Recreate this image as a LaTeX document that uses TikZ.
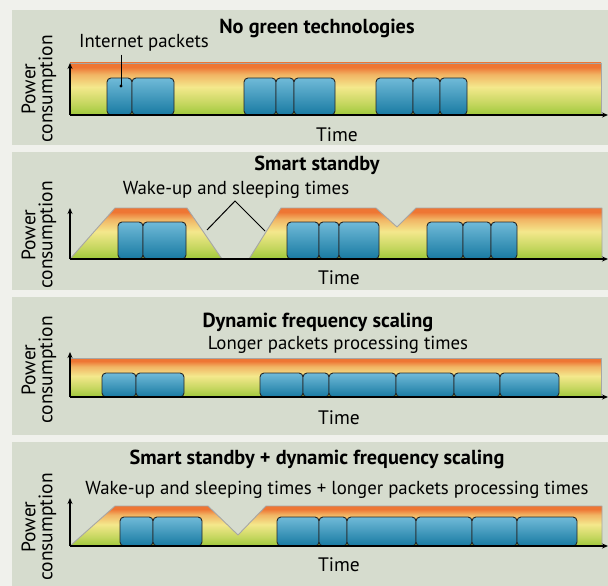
\documentclass[tikz,border=0pt]{standalone}
\usepackage{fontspec}
\setmainfont{PT Sans}
\usetikzlibrary{arrows.meta}
\definecolor{panelbg}{RGB}{214,220,206}
\definecolor{pagebg}{RGB}{240,241,236}
\definecolor{borange}{RGB}{238,118,52}
\definecolor{byellow}{RGB}{244,232,140}
\definecolor{bgreen}{RGB}{158,200,58}
\definecolor{pktlight}{RGB}{112,186,216}
\definecolor{pktdark}{RGB}{24,122,162}
\pgfdeclareverticalshading{band}{100bp}{color(0bp)=(bgreen); color(25bp)=(bgreen); color(36bp)=(bgreen!55!byellow); color(52bp)=(byellow); color(64bp)=(borange!45!byellow); color(71bp)=(borange); color(75bp)=(borange); color(100bp)=(borange)}
\newcommand\pkt[5]{\node[packet, anchor=south west, minimum width={(#3-#2)*1pt}, minimum height={(#5-#4)*1pt}] (#1) at (#2,#5) {};}
\tikzset{
  packet/.style={draw=black!85, line width=0.9pt, rounded corners=4pt, top color=pktlight, bottom color=pktdark, inner sep=0pt, outer sep=0pt},
  bandfill/.style={shading=band},
  bandedge/.style={draw=gray!70, line width=0.9pt, line join=round},
  axisline/.style={line width=1.3pt, -{Stealth[length=6pt,width=5pt]}},
  leader/.style={line width=1pt},
  ttl/.style={font=\fontsize{20.3}{22}\selectfont\bfseries, inner sep=0pt},
  lbl/.style={font=\fontsize{18.8}{21}\selectfont, inner sep=0pt},
  tlbl/.style={font=\fontsize{19.5}{21}\selectfont, inner sep=0pt},
  ylbl/.style={font=\fontsize{19.5}{20}\selectfont, rotate=90, align=center, inner sep=0pt},
}
\begin{document}
\begin{tikzpicture}[x=1pt,y=-1pt]
\useasboundingbox (0,0) rectangle (608,586);
\fill[pagebg] (0,0) rectangle (608,586);
% panels
\fill[panelbg] (12,10) rectangle (608,145);
\fill[panelbg] (12,152) rectangle (608,290);
\fill[panelbg] (12,297) rectangle (608,435);
\fill[panelbg] (12,442) rectangle (608,586);

% ---------- Panel 1 ----------
\path[bandfill] (70,115) -- (70,63) -- (601,63) -- (601,115) -- cycle;
\draw[bandedge] (70,63) -- (601,63) -- (601,115);
\pkt{pa1}{107}{132}{78}{115}
\pkt{pa2}{132}{174}{78}{115}
\pkt{pa3}{244}{276}{78}{115}
\pkt{pa4}{276}{294}{78}{115}
\pkt{pa5}{294}{335}{78}{115}
\pkt{pa6}{376}{413}{78}{115}
\pkt{pa7}{413}{440}{78}{115}
\pkt{pa8}{440}{467}{78}{115}
\coordinate (oa) at (70,115);
\coordinate (ya) at (70,63);
\coordinate (xa) at (608,115);
\draw[axisline] (oa) -- (ya);
\draw[axisline] (oa) -- (xa);
\node[ttl] (ta) at (317,28) {No green technologies};
\node[lbl] (la) at (144,43) {Internet packets};
\coordinate (da) at (121,86);
\draw[leader] (la.south -| da) ++(0,3) -- (da);
\fill (da) circle (1.6pt);
\node[tlbl] (tma) at (337,135) {Time};
\node[ylbl] (pwa) at (39,89) {Power\\[-3pt]consumption};

% ---------- Panel 2 ----------
\path[bandfill] (70,259) -- (115,208) -- (187,208) -- (222,259) -- cycle;
\draw[bandedge] (70,259) -- (115,208) -- (187,208) -- (222,259);
\path[bandfill] (249,259) -- (281,208) -- (376,208) -- (397,227) -- (416,208) -- (602,208) -- (602,259) -- cycle;
\draw[bandedge] (249,259) -- (281,208) -- (376,208) -- (397,227) -- (416,208) -- (602,208) -- (602,259);
\pkt{pb1}{118}{143}{222}{259}
\pkt{pb2}{143}{186}{222}{259}
\pkt{pb3}{287}{319}{222}{259}
\pkt{pb4}{319}{339}{222}{259}
\pkt{pb5}{339}{379}{222}{259}
\pkt{pb6}{427}{463}{222}{259}
\pkt{pb7}{463}{491}{222}{259}
\pkt{pb8}{491}{517}{222}{259}
\coordinate (ob) at (70,259);
\coordinate (yb) at (70,208);
\coordinate (xb) at (608,259);
\draw[axisline] (ob) -- (yb);
\draw[axisline] (ob) -- (xb);
\node[ttl] (tb) at (317,165) {Smart standby};
\node[lbl] (lb) at (236,190) {Wake-up and sleeping times};
\coordinate (apb) at (235,201);
\coordinate (e1b) at (207,230);
\coordinate (e2b) at (265,231);
\draw[leader] (e1b) -- (apb) -- (e2b);
\node[tlbl] (tmb) at (339,278) {Time};
\node[ylbl] (pwb) at (39,235) {Power\\[-3pt]consumption};

% ---------- Panel 3 ----------
\path[bandfill] (70,397) -- (70,358) -- (601,358) -- (601,397) -- cycle;
\draw[bandedge] (70,358) -- (601,358) -- (601,397);
\pkt{pc1}{102}{136}{373}{397}
\pkt{pc2}{136}{184}{373}{397}
\pkt{pc3}{260}{303}{373}{397}
\pkt{pc4}{303}{329}{373}{397}
\pkt{pc5}{329}{396}{373}{397}
\pkt{pc6}{396}{454}{373}{397}
\pkt{pc7}{454}{500}{373}{397}
\pkt{pc8}{500}{559}{373}{397}
\coordinate (oc) at (70,397);
\coordinate (yc) at (70,352);
\coordinate (xc) at (608,397);
\draw[axisline] (oc) -- (yc);
\draw[axisline] (oc) -- (xc);
\node[ttl] (tc) at (318,322) {Dynamic frequency scaling};
\node[lbl] (lc) at (338,345) {Longer packets processing times};
\node[tlbl] (tmc) at (339,418) {Time};
\node[ylbl] (pwc) at (39,370) {Power\\[-3pt]consumption};

% ---------- Panel 4 ----------
\path[bandfill] (70,546) -- (115,506) -- (208,506) -- (238,535) -- (266,506) -- (602,506) -- (602,546) -- cycle;
\draw[bandedge] (70,546) -- (115,506) -- (208,506) -- (238,535) -- (266,506) -- (602,506) -- (602,546);
\pkt{pd1}{120}{153}{517}{546}
\pkt{pd2}{153}{202}{517}{546}
\pkt{pd3}{277}{319}{517}{546}
\pkt{pd4}{319}{347}{517}{546}
\pkt{pd5}{347}{416}{517}{546}
\pkt{pd6}{416}{472}{517}{546}
\pkt{pd7}{472}{517}{517}{546}
\pkt{pd8}{517}{577}{517}{546}
\coordinate (od) at (70,546);
\coordinate (yd) at (70,498);
\coordinate (xd) at (608,546);
\draw[axisline] (od) -- (yd);
\draw[axisline] (od) -- (xd);
\node[ttl] (td) at (317,459) {Smart standby + dynamic frequency scaling};
\node[lbl] (ld) at (337,490) {Wake-up and sleeping times + longer packets processing times};
\node[tlbl] (tmd) at (339,565) {Time};
\node[ylbl] (pwd) at (39,527) {Power\\[-3pt]consumption};
\end{tikzpicture}
\end{document}
